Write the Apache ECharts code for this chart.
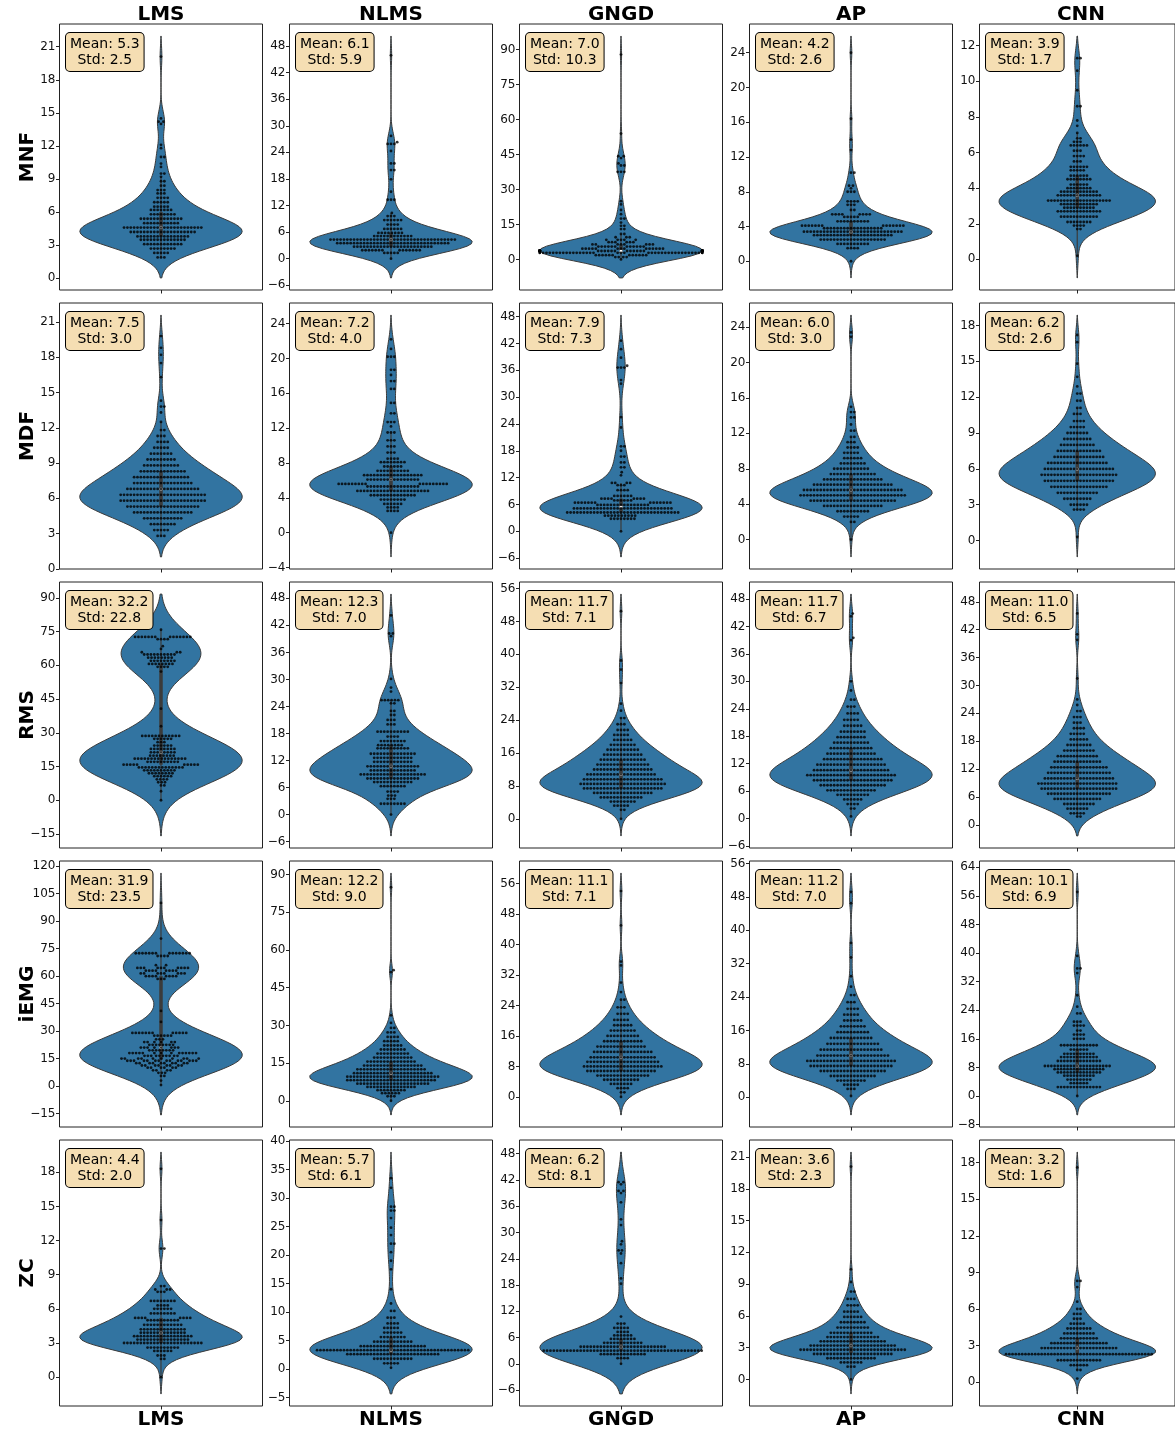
<!DOCTYPE html>
<html>
<head>
<meta charset="utf-8">
<script src="https://cdn.jsdelivr.net/npm/echarts@6/dist/echarts.min.js"></script>
<style>
html,body{margin:0;padding:0;background:#fff}
#chart{width:1175px;height:1432px}
</style>
</head>
<body>
<div id="chart"></div>
<script>
// Adaptive-filter comparison: five EMG features (rows) x five methods (columns).
// Each sample table lists [value, number of dots at that value].
const METHODS = ['LMS', 'NLMS', 'GNGD', 'AP', 'CNN'];
const FEATURES = ['MNF', 'MDF', 'RMS', 'iEMG', 'ZC'];

// ---- MNF ----
const mnfLMS = [[20.1,1],[14.5,1],[14.2,2],[14.0,1],[12.1,1],[11.8,1],[11.0,2],[10.4,1],[10.1,1],[9.5,2],[9.2,1],[8.8,2],[8.4,2],[8.0,3],[7.7,3],[7.3,4],[6.9,5],[6.5,5],[6.2,7],[5.8,8],[5.4,13],[5.0,11],[4.6,24],[4.2,20],[3.8,16],[3.5,14],[3.1,12],[2.7,8],[2.3,5],[1.9,3]];
const mnfNLMS = [[45.9,1],[27.7,1],[26.3,1],[25.9,3],[24.3,1],[21.5,2],[20.0,2],[17.9,1],[15.1,1],[13.3,3],[10.3,1],[9.6,3],[8.7,6],[7.7,4],[6.7,6],[5.8,8],[5.1,12],[4.3,38],[3.5,34],[2.7,24],[1.9,14],[1.3,5],[0.0,1]];
const mnfGNGD = [[87.9,1],[54.0,1],[44.3,2],[43.5,1],[41.2,1],[40.3,2],[37.6,3],[25.0,1],[23.6,1],[21.2,1],[19.4,1],[17.5,2],[15.8,1],[14.4,2],[13.0,2],[10.9,2],[9.5,3],[8.4,5],[7.4,6],[6.4,8],[5.5,12],[4.6,14],[3.6,50],[2.8,40],[1.8,12],[1.0,4],[0.0,1]];
const mnfAP = [[24.0,1],[16.4,1],[14.0,1],[12.8,1],[10.2,2],[8.7,2],[8.4,1],[8.0,3],[6.9,4],[6.5,3],[5.9,2],[5.4,8],[5.1,5],[4.6,10],[4.1,14],[3.8,18],[3.4,30],[3.0,24],[2.5,20],[2.0,10],[1.5,4],[0.0,1]];
const mnfCNN = [[11.3,2],[10.6,1],[9.5,1],[8.6,2],[7.8,1],[7.5,1],[7.1,1],[6.8,2],[6.6,3],[6.4,6],[6.1,3],[5.8,4],[5.5,3],[5.2,6],[5.0,5],[4.7,6],[4.5,8],[4.2,6],[4.0,8],[3.8,12],[3.6,14],[3.3,20],[3.1,12],[2.9,10],[2.7,14],[2.4,12],[2.1,8],[1.9,4],[1.7,2],[0.2,1]];

// ---- MDF ----
const mdfLMS = [[19.8,1],[18.8,1],[18.2,1],[17.5,1],[16.3,1],[14.3,1],[13.8,2],[13.3,1],[12.5,1],[11.8,2],[11.3,3],[10.8,4],[10.3,5],[9.8,7],[9.3,9],[8.8,11],[8.3,14],[7.8,17],[7.3,18],[6.8,22],[6.3,26],[5.8,26],[5.3,22],[4.8,18],[4.3,12],[3.8,8],[3.3,5],[2.8,3]];
const mdfNLMS = [[22.2,1],[21.1,1],[20.2,3],[18.7,2],[18.1,1],[17.4,2],[16.5,2],[14.9,2],[13.7,2],[12.7,3],[12.2,1],[11.5,3],[10.6,3],[9.9,3],[9.2,3],[8.5,4],[8.1,8],[7.6,6],[7.1,10],[6.6,18],[6.1,16],[5.6,18],[5.3,16],[4.8,22],[4.3,14],[3.8,8],[3.3,6],[2.9,4],[2.5,4],[0.0,1]];
const mdfGNGD = [[42.6,1],[40.7,1],[38.8,1],[37.0,1],[36.6,3],[33.8,1],[33.0,1],[25.5,1],[23.2,1],[19.0,2],[18.0,1],[16.7,2],[15.4,2],[14.3,2],[13.2,1],[12.5,1],[10.8,4],[10.3,3],[9.2,4],[7.9,6],[7.3,8],[6.9,6],[6.4,14],[5.9,16],[5.1,30],[4.2,34],[3.5,10],[2.8,8],[0.0,1]];
const mdfAP = [[23.4,1],[22.9,1],[15.0,1],[14.4,2],[13.8,2],[13.0,1],[12.3,2],[11.6,2],[11.0,3],[10.4,4],[9.8,5],[9.2,6],[8.6,8],[8.0,11],[7.4,14],[6.8,18],[6.2,24],[5.6,30],[5.0,32],[4.4,26],[3.8,18],[3.2,10],[2.6,5],[2.0,2],[0.0,1]];
const mdfCNN = [[17.2,1],[16.6,1],[14.8,1],[13.7,1],[12.9,1],[12.3,2],[11.7,2],[11.1,2],[10.6,3],[10.0,4],[9.5,5],[9.0,7],[8.5,9],[8.0,11],[7.5,14],[7.0,16],[6.5,19],[6.0,22],[5.5,24],[5.0,22],[4.5,18],[4.0,13],[3.5,9],[3.0,6],[2.6,4],[0.3,1]];

// ---- RMS ----
const rmsLMS = [[75.8,1],[72.6,14],[71.6,4],[68.5,1],[67.3,1],[65.8,3],[64.8,10],[63.4,8],[62.0,8],[60.6,8],[59.3,4],[57.2,1],[40.7,1],[32.9,1],[28.6,12],[27.3,6],[25.8,3],[24.3,6],[22.8,8],[21.3,8],[19.8,8],[18.5,16],[17.1,10],[15.8,10],[14.6,14],[13.3,10],[12.0,8],[10.7,6],[9.3,4],[8.0,3],[6.6,2],[4.0,1],[0.0,1]];
const rmsNLMS = [[44.2,1],[40.2,2],[39.6,1],[30.1,1],[28.2,1],[27.3,1],[25.4,6],[24.7,2],[23.0,2],[22.1,2],[21.0,3],[20.0,3],[18.4,10],[17.3,4],[16.3,8],[15.4,8],[14.7,10],[13.5,14],[12.6,12],[11.7,12],[10.7,16],[9.8,14],[8.9,20],[8.0,16],[7.2,12],[6.3,8],[5.1,4],[4.2,3],[3.5,3],[2.4,8],[0.0,1]];
const rmsGNGD = [[50.5,1],[38.5,1],[36.3,1],[33.0,1],[28.0,1],[26.3,1],[24.5,2],[23.0,3],[21.6,4],[20.4,5],[19.2,6],[18.0,8],[16.8,10],[15.6,12],[14.4,14],[13.2,16],[12.0,18],[10.8,21],[9.6,24],[8.5,26],[7.4,24],[6.3,18],[5.2,13],[4.2,8],[3.2,5],[2.2,2],[0.0,1]];
const rmsAP = [[44.8,1],[44.2,1],[39.5,1],[39.0,1],[30.0,1],[28.0,1],[26.0,2],[24.5,3],[23.0,4],[21.6,5],[20.3,6],[19.0,8],[17.8,9],[16.6,11],[15.4,13],[14.2,15],[13.0,18],[11.8,21],[10.6,23],[9.5,27],[8.4,24],[7.3,20],[6.2,15],[5.2,10],[4.2,6],[3.2,4],[2.2,2],[0.5,1]];
const rmsCNN = [[45.5,1],[41.0,1],[39.8,1],[31.5,1],[27.0,1],[25.8,1],[24.5,2],[23.2,3],[22.0,3],[20.8,4],[19.6,5],[18.4,6],[17.2,8],[16.0,10],[14.8,13],[13.6,15],[12.4,18],[11.2,20],[10.0,22],[8.9,25],[7.8,24],[6.7,20],[5.6,15],[4.5,10],[3.5,7],[2.5,5],[1.8,2]];

// ---- iEMG ----
const iemgLMS = [[100.0,1],[80.5,1],[72.5,14],[71.0,4],[66.0,2],[64.5,10],[63.0,8],[61.5,8],[60.0,8],[58.5,3],[41.0,1],[35.0,1],[29.0,12],[27.5,6],[25.5,3],[24.0,6],[22.5,8],[21.0,8],[19.5,8],[18.0,14],[16.5,10],[15.0,10],[13.8,14],[12.5,10],[11.2,8],[10.0,6],[8.6,4],[7.2,3],[5.5,2],[3.0,1],[0.5,1]];
const iemgNLMS = [[85.0,1],[52.0,1],[51.2,1],[34.0,1],[31.0,1],[29.0,2],[27.2,3],[25.4,4],[23.7,5],[22.0,6],[20.4,8],[18.8,10],[17.2,12],[15.6,15],[14.0,18],[12.5,21],[11.0,24],[9.6,28],[8.2,27],[6.8,22],[5.5,15],[4.2,9],[3.0,6],[1.8,3],[0.0,1]];
const iemgGNGD = [[54.0,1],[45.0,1],[35.5,1],[34.5,1],[30.0,1],[27.5,1],[25.5,2],[23.5,3],[21.8,4],[20.2,5],[18.8,6],[17.4,8],[16.0,10],[14.6,12],[13.2,15],[11.8,18],[10.4,20],[9.2,22],[8.0,24],[6.8,21],[5.6,16],[4.5,11],[3.4,7],[2.3,4],[1.2,2],[0.0,1]];
const iemgAP = [[49.2,1],[46.5,1],[37.0,1],[33.5,1],[29.0,1],[26.5,1],[24.5,2],[22.8,3],[21.2,4],[19.8,5],[18.4,6],[17.0,8],[15.6,10],[14.2,13],[12.8,16],[11.4,19],[10.0,22],[8.7,27],[7.5,25],[6.3,20],[5.1,14],[4.0,9],[3.0,5],[2.0,3],[0.3,1]];
const iemgCNN = [[57.1,1],[39.2,1],[35.7,2],[34.4,1],[28.2,1],[25.0,1],[23.1,2],[20.8,3],[19.7,4],[18.3,2],[17.2,4],[16.0,4],[14.2,12],[13.0,6],[11.8,10],[10.9,12],[9.8,14],[8.4,21],[7.5,16],[6.6,14],[5.7,10],[4.6,8],[3.6,6],[2.5,14],[0.0,1]];

// ---- ZC ----
const zcLMS = [[18.3,1],[13.8,1],[11.3,2],[8.0,2],[7.7,3],[7.5,3],[6.7,8],[6.3,4],[6.0,6],[5.6,8],[5.2,8],[5.0,10],[4.6,12],[4.2,14],[3.9,14],[3.6,18],[3.3,16],[3.0,24],[2.6,10],[2.3,6],[1.9,3],[1.6,2],[0.0,1]];
const zcNLMS = [[33.5,1],[31.8,1],[28.5,2],[27.8,2],[26.5,1],[24.8,1],[23.5,1],[22.0,2],[20.5,1],[19.0,1],[17.5,1],[14.0,1],[11.5,1],[10.2,2],[9.0,3],[8.0,4],[7.2,5],[6.4,6],[5.6,8],[4.8,12],[4.0,20],[3.3,46],[2.6,28],[1.8,12],[1.0,5],[0.2,1]];
const zcGNGD = [[41.5,2],[41.0,1],[39.5,2],[39.0,1],[36.9,1],[33.0,1],[31.7,1],[28.0,1],[27.3,1],[25.9,2],[25.2,1],[23.0,1],[19.5,1],[18.3,1],[10.8,1],[9.2,3],[8.2,5],[7.3,4],[6.5,6],[5.7,8],[4.8,12],[3.9,26],[3.0,48],[2.2,14],[1.3,4],[0.0,1]];
const zcAP = [[20.1,1],[10.4,1],[9.2,1],[8.3,2],[7.6,3],[7.0,4],[6.4,5],[5.9,6],[5.4,8],[4.9,10],[4.4,13],[4.0,16],[3.6,20],[3.2,26],[2.8,32],[2.4,24],[2.0,15],[1.6,7],[1.2,3],[0.0,1]];
const zcCNN = [[17.6,1],[8.3,2],[7.8,1],[6.6,1],[6.0,2],[5.6,3],[5.2,3],[4.8,5],[4.4,8],[4.0,10],[3.6,12],[3.2,18],[2.8,24],[2.3,46],[1.8,14],[1.4,6],[1.0,2],[0.3,1]];

const SAMPLES = [
  [mnfLMS, mnfNLMS, mnfGNGD, mnfAP, mnfCNN],
  [mdfLMS, mdfNLMS, mdfGNGD, mdfAP, mdfCNN],
  [rmsLMS, rmsNLMS, rmsGNGD, rmsAP, rmsCNN],
  [iemgLMS, iemgNLMS, iemgGNGD, iemgAP, iemgCNN],
  [zcLMS, zcNLMS, zcGNGD, zcAP, zcCNN]
];

// Summary statistics printed in each panel
const MEANS = [
  [5.3, 6.1, 7.0, 4.2, 3.9],
  [7.5, 7.2, 7.9, 6.0, 6.2],
  [32.2, 12.3, 11.7, 11.7, 11.0],
  [31.9, 12.2, 11.1, 11.2, 10.1],
  [4.4, 5.7, 6.2, 3.6, 3.2]
];
const STDS = [
  [2.5, 5.9, 10.3, 2.6, 1.7],
  [3.0, 4.0, 7.3, 3.0, 2.6],
  [22.8, 7.0, 7.1, 6.7, 6.5],
  [23.5, 9.0, 7.1, 7.0, 6.9],
  [2.0, 6.1, 8.1, 2.3, 1.6]
];

// y tick labels of every panel
const TICKS = [
  [[0,3,6,9,12,15,18,21], [-6,0,6,12,18,24,30,36,42,48], [0,15,30,45,60,75,90], [0,4,8,12,16,20,24], [0,2,4,6,8,10,12]],
  [[0,3,6,9,12,15,18,21], [-4,0,4,8,12,16,20,24], [-6,0,6,12,18,24,30,36,42,48], [0,4,8,12,16,20,24], [0,3,6,9,12,15,18]],
  [[-15,0,15,30,45,60,75,90], [-6,0,6,12,18,24,30,36,42,48], [0,8,16,24,32,40,48,56], [-6,0,6,12,18,24,30,36,42,48], [0,6,12,18,24,30,36,42,48]],
  [[-15,0,15,30,45,60,75,90,105,120], [0,15,30,45,60,75,90], [-8,0,8,16,24,32,40,48,56], [0,8,16,24,32,40,48,56], [-8,0,8,16,24,32,40,48,56,64]],
  [[0,3,6,9,12,15,18], [-5,0,5,10,15,20,25,30,35,40], [-6,0,6,12,18,24,30,36,42,48], [0,3,6,9,12,15,18,21], [0,3,6,9,12,15,18]]
];

// ---- layout & style ----
const GRID_X0 = 59.5, GRID_DX = 230, GRID_W = 203;
const GRID_Y0 = 24, GRID_DY = 279, GRID_H = 266;
const FONT = '"DejaVu Sans", "Liberation Sans", sans-serif';
const VIOLIN_FILL = '#3274A1';
const VIOLIN_EDGE = '#3b3b3b';
const INNER_COLOR = '#3b3b3b';
const FRAME_COLOR = '#222';
const DOT_DIAM = 3.2;

function expand(rows) {
  const out = [];
  rows.forEach(([v, c]) => { for (let i = 0; i < c; i++) out.push(v); });
  return out;
}

// Gaussian KDE with Scott's bandwidth, evaluated over the data range +/- 2 bandwidths
function violinShape(vals) {
  const n = vals.length;
  const mean = vals.reduce((a, b) => a + b, 0) / n;
  const sd = Math.sqrt(vals.reduce((a, b) => a + (b - mean) * (b - mean), 0) / (n - 1));
  const bw = Math.pow(n, -0.2) * sd;
  const vmin = Math.min(...vals), vmax = Math.max(...vals);
  const lo = vmin - 2 * bw, hi = vmax + 2 * bw;
  const G = 100, ys = [], ds = [];
  for (let i = 0; i < G; i++) {
    const y = lo + (hi - lo) * i / (G - 1);
    let s = 0;
    for (const v of vals) { const z = (y - v) / bw; s += Math.exp(-0.5 * z * z); }
    ys.push(y); ds.push(s);
  }
  const dmax = Math.max(...ds);
  return { ys, half: ds.map(d => 0.4 * d / dmax), lo, hi };
}

function pct(sorted, p) {
  const idx = (sorted.length - 1) * p;
  const a = Math.floor(idx), b = Math.ceil(idx);
  return sorted[a] + (sorted[b] - sorted[a]) * (idx - a);
}

function boxStats(vals) {
  const s = vals.slice().sort((a, b) => a - b);
  const q1 = pct(s, 0.25), med = pct(s, 0.5), q3 = pct(s, 0.75);
  const iqr = q3 - q1;
  const whisLo = Math.min(...s.filter(v => v >= q1 - 1.5 * iqr));
  const whisHi = Math.max(...s.filter(v => v <= q3 + 1.5 * iqr));
  return { q1, med, q3, whisLo, whisHi };
}

// Beeswarm placement in pixel space (points placed in ascending order,
// each as close to the centre line as possible without overlapping)
function swarmOffsets(vals, pxPerUnit) {
  const order = vals.map((v, i) => i).sort((a, b) => vals[a] - vals[b]);
  const placed = [];
  const out = new Array(vals.length);
  const d = DOT_DIAM, d2 = d * d;
  const maxHalf = 0.4 * GRID_W;
  for (const idx of order) {
    const y = vals[idx] * pxPerUnit;
    const nb = placed.filter(p => Math.abs(p.y - y) < d);
    const cands = [0];
    for (const p of nb) {
      const dy = y - p.y;
      const dx = Math.sqrt(Math.max(d2 - dy * dy, 0)) * 1.05;
      cands.push(p.x + dx, p.x - dx);
    }
    const sortedC = cands.map((c, i) => [c, i]).sort((a, b) => (Math.abs(a[0]) - Math.abs(b[0])) || (a[1] - b[1]));
    let chosen = sortedC[sortedC.length - 1][0];
    for (const [c] of sortedC) {
      let ok = true;
      for (const p of nb) {
        const ddx = c - p.x, ddy = y - p.y;
        if (ddx * ddx + ddy * ddy < d2 - 1e-6) { ok = false; break; }
      }
      if (ok) { chosen = c; break; }
    }
    placed.push({ x: chosen, y });
    out[idx] = Math.max(-maxHalf, Math.min(maxHalf, chosen));
  }
  return out;
}

function fmtTick(v) { return v < 0 ? '\u2212' + Math.abs(v) : String(v); }

const measureCtx = document.createElement('canvas').getContext('2d');
measureCtx.font = '14px ' + FONT;

const grids = [], xAxes = [], yAxes = [], series = [], graphics = [];

FEATURES.forEach((feat, r) => {
  METHODS.forEach((meth, c) => {
    const k = r * 5 + c;
    const left = GRID_X0 + c * GRID_DX;
    const top = GRID_Y0 + r * GRID_DY;
    const vals = expand(SAMPLES[r][c]);
    const shape = violinShape(vals);
    const st = boxStats(vals);
    const span = shape.hi - shape.lo;
    const yMin = shape.lo - 0.05 * span, yMax = shape.hi + 0.05 * span;
    const ticks = TICKS[r][c].filter(t => t >= yMin && t <= yMax);

    grids.push({ left, top, width: GRID_W, height: GRID_H, show: true, borderColor: FRAME_COLOR, borderWidth: 1, backgroundColor: 'transparent' });
    xAxes.push({
      gridIndex: k, type: 'value', min: -0.5, max: 0.5, position: 'bottom',
      axisLine: { show: false, onZero: false }, splitLine: { show: false },
      axisLabel: { show: false },
      axisTick: { show: true, length: 3.5, lineStyle: { color: FRAME_COLOR, width: 1 }, customValues: [0] }
    });
    yAxes.push({
      gridIndex: k, type: 'value', min: yMin, max: yMax, position: 'left',
      axisLine: { show: false, onZero: false }, splitLine: { show: false },
      axisTick: { show: true, length: 3.5, lineStyle: { color: FRAME_COLOR, width: 1 }, customValues: ticks },
      axisLabel: { show: true, customValues: ticks, formatter: fmtTick, color: '#111', fontSize: 12, fontFamily: FONT, margin: 4 }
    });

    // violin body with inner box
    series.push({
      type: 'custom', coordinateSystem: 'cartesian2d', xAxisIndex: k, yAxisIndex: k,
      silent: true, z: 2, data: [[0, 0]],
      renderItem: (params, api) => {
        const pts = [];
        for (let i = 0; i < shape.ys.length; i++) pts.push(api.coord([shape.half[i], shape.ys[i]]));
        for (let i = shape.ys.length - 1; i >= 0; i--) pts.push(api.coord([-shape.half[i], shape.ys[i]]));
        const w0 = api.coord([0, st.whisLo]), w1 = api.coord([0, st.whisHi]);
        const b0 = api.coord([0, st.q1]), b1 = api.coord([0, st.q3]);
        const m = api.coord([0, st.med]);
        return {
          type: 'group',
          children: [
            { type: 'polygon', shape: { points: pts }, style: { fill: VIOLIN_FILL, stroke: VIOLIN_EDGE, lineWidth: 1 } },
            { type: 'line', shape: { x1: w0[0], y1: w0[1], x2: w1[0], y2: w1[1] }, style: { stroke: INNER_COLOR, lineWidth: 1.2 } },
            { type: 'line', shape: { x1: b0[0], y1: b0[1], x2: b1[0], y2: b1[1] }, style: { stroke: INNER_COLOR, lineWidth: 3.5 } },
            { type: 'circle', shape: { cx: m[0], cy: m[1], r: 1.5 }, style: { fill: '#fff' } }
          ]
        };
      }
    });

    // swarm of individual samples
    const pxPerUnit = GRID_H / (yMax - yMin);
    const offs = swarmOffsets(vals, pxPerUnit);
    series.push({
      type: 'scatter', xAxisIndex: k, yAxisIndex: k, silent: true, z: 3,
      symbol: 'circle', symbolSize: 2.8,
      itemStyle: { color: '#000' },
      data: vals.map((v, i) => [offs[i] / GRID_W, v])
    });

    // mean / std annotation
    const l1 = 'Mean: ' + MEANS[r][c].toFixed(1);
    const l2 = 'Std: ' + STDS[r][c].toFixed(1);
    const maxW = Math.max(measureCtx.measureText(l1).width, measureCtx.measureText(l2).width);
    const padX = 4, padY = 3;
    graphics.push({
      type: 'text', z: 100,
      x: left + 6.5 + (maxW + 2 * padX) / 2, y: top + 9,
      style: {
        text: l1 + '\n' + l2, fontSize: 14, fontFamily: FONT, fill: '#000',
        align: 'center', verticalAlign: 'top', lineHeight: 16,
        backgroundColor: '#F5DEB3', borderColor: '#000', borderWidth: 1, borderRadius: 4,
        padding: [padY, padX]
      }
    });
  });
});

// column titles (top and bottom) and row labels
METHODS.forEach((m, c) => {
  const cx = GRID_X0 + c * GRID_DX + GRID_W / 2;
  [15, 1420].forEach(y => {
    graphics.push({
      type: 'text', x: cx, y, z: 100,
      style: { text: m, fontSize: 20, fontWeight: 'bold', fontFamily: FONT, fill: '#000', align: 'center', verticalAlign: 'middle' }
    });
  });
});
FEATURES.forEach((f, r) => {
  graphics.push({
    type: 'text', x: 27.5, y: GRID_Y0 + r * GRID_DY + GRID_H / 2, rotation: Math.PI / 2, z: 100,
    style: { text: f, fontSize: 20, fontWeight: 'bold', fontFamily: FONT, fill: '#000', align: 'center', verticalAlign: 'middle' }
  });
});

const chart = echarts.init(document.getElementById('chart'), null, { renderer: 'canvas' });
chart.setOption({
  animation: false,
  backgroundColor: '#fff',
  grid: grids,
  xAxis: xAxes,
  yAxis: yAxes,
  series,
  graphic: graphics
});
</script>
</body>
</html>
